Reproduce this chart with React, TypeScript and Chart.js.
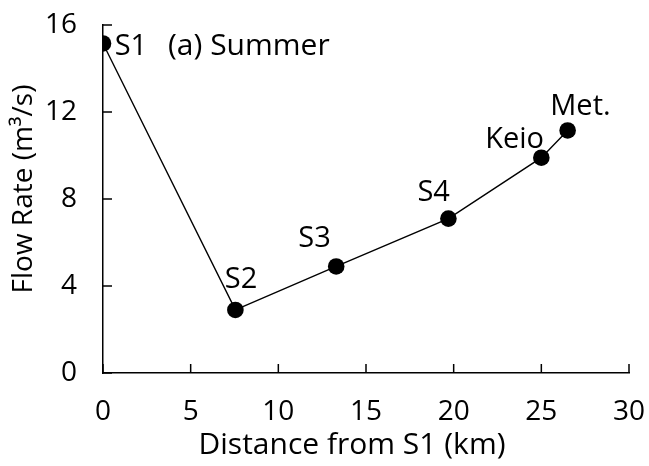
import React, { useEffect, useRef } from "react";
import { Chart, registerables } from "chart.js";

Chart.register(...registerables);

// Flow rate along the river, summer survey
const stations = ["S1", "S2", "S3", "S4", "Keio", "Met."];
const distanceKm = [0, 7.55, 13.3, 19.7, 25.0, 26.5];
const flowRate = [15.15, 2.9, 4.9, 7.1, 9.9, 11.15];
const xTicks = [0, 5, 10, 15, 20, 25, 30];
const yTicks = [0, 4, 8, 12, 16];
const xTitle = "Distance from S1 (km)";
const yTitle = "Flow Rate (m³/s)";
const panelTitle = "(a) Summer";

const TEXT_FONT = "'Open Sans', sans-serif";
const TICK_FONT = "'Liberation Sans Narrow', 'Open Sans', sans-serif";

// station label anchor relative to each marker: [dx, baseline dy, align]
const labelPlacement: [number, number, CanvasTextAlign][] = [
  [11.7, 11.7, "left"],
  [5.7, -22, "center"],
  [-21.7, -19.5, "center"],
  [-14.7, -17.2, "center"],
  [-26.7, -9.3, "center"],
  [12.8, -15, "center"],
];

const annotations = {
  id: "annotations",
  afterDraw(chart: any) {
    const ctx = chart.ctx;
    const { left, top, bottom } = chart.chartArea;
    const xs = chart.scales.x;
    const ys = chart.scales.y;
    const meta = chart.getDatasetMeta(0);

    ctx.save();
    // inward tick marks
    ctx.strokeStyle = "#000";
    ctx.lineWidth = 1.5;
    ctx.beginPath();
    xTicks.forEach((v) => {
      const px = xs.getPixelForValue(v);
      ctx.moveTo(px, bottom);
      ctx.lineTo(px, bottom - 9);
    });
    yTicks.forEach((v) => {
      const py = ys.getPixelForValue(v);
      ctx.moveTo(left, py);
      ctx.lineTo(left + 9, py);
    });
    ctx.stroke();

    ctx.fillStyle = "#000";
    ctx.textBaseline = "alphabetic";

    // tick labels
    ctx.font = `28px ${TICK_FONT}`;
    ctx.textAlign = "center";
    xTicks.forEach((v) => {
      ctx.fillText(String(v), xs.getPixelForValue(v), bottom + 47);
    });
    ctx.textAlign = "right";
    yTicks.forEach((v) => {
      ctx.fillText(String(v), left - 26, ys.getPixelForValue(v) + 8);
    });

    // axis titles
    ctx.font = `30px ${TEXT_FONT}`;
    ctx.textAlign = "center";
    ctx.fillText(xTitle, left + 249, bottom + 81);
    ctx.font = `28px ${TEXT_FONT}`;
    ctx.save();
    ctx.translate(left - 71, (top + bottom) / 2 - 10);
    ctx.rotate(-Math.PI / 2);
    ctx.fillText(yTitle, 0, 0);
    ctx.restore();

    // station labels and panel title
    ctx.font = `29px ${TEXT_FONT}`;
    meta.data.forEach((pt: any, i: number) => {
      const [dx, dy, align] = labelPlacement[i];
      ctx.textAlign = align;
      ctx.fillText(stations[i], pt.x + dx, pt.y + dy);
    });
    ctx.textAlign = "left";
    ctx.font = `30px ${TEXT_FONT}`;
    ctx.fillText(panelTitle, left + 65, top + 30);
    ctx.restore();
  },
};

export default function App() {
  const ref = useRef<HTMLCanvasElement>(null);

  useEffect(() => {
    if (!ref.current) return;
    const chart = new Chart(ref.current, {
      type: "scatter",
      data: {
        datasets: [
          {
            data: distanceKm.map((x, i) => ({ x, y: flowRate[i] })),
            showLine: true,
            borderColor: "#000",
            borderWidth: 1.4,
            backgroundColor: "#000",
            pointRadius: 8.3,
            pointBackgroundColor: "#000",
            pointBorderColor: "#000",
            pointBorderWidth: 0,
          },
        ],
      },
      options: {
        responsive: true,
        maintainAspectRatio: false,
        animation: false,
        layout: { padding: { top: 25, right: 20, left: 0, bottom: 0 } },
        plugins: {
          legend: { display: false },
          tooltip: { enabled: false },
        },
        scales: {
          x: {
            type: "linear",
            min: 0,
            max: 30,
            grid: { display: false, drawTicks: false },
            border: { display: true, color: "#000", width: 1.5 },
            ticks: { display: false },
            afterFit: (s: any) => {
              s.height = 93;
            },
          },
          y: {
            type: "linear",
            min: 0,
            max: 16,
            grid: { display: false, drawTicks: false },
            border: { display: true, color: "#000", width: 1.5 },
            ticks: { display: false },
            afterFit: (s: any) => {
              s.width = 103;
            },
          },
        },
      },
      plugins: [annotations],
    });
    return () => chart.destroy();
  }, []);

  return (
    <div style={{ position: "fixed", left: 0, top: 0, width: 649, height: 466, background: "#fff" }}>
      <canvas ref={ref} />
    </div>
  );
}
